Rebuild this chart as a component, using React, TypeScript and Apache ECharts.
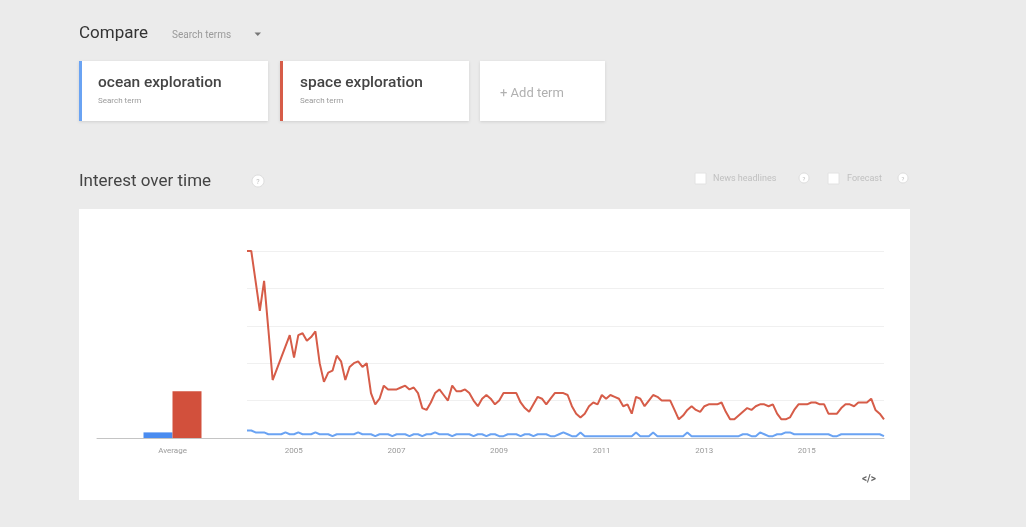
import React, { useEffect, useRef } from "react";
import * as echarts from "echarts";

const avgCategories = ["Average"];
const avgOcean = [3];
const avgSpace = [25];

const startYear = 2004;
const monthCount = 150;
const months: string[] = [];
for (let i = 0; i < monthCount; i++) {
  const y = startYear + Math.floor(i / 12);
  const m = (i % 12) + 1;
  months.push(`${y}-${m < 10 ? "0" + m : m}`);
}

const spaceExploration = [
  100, 100, 84, 68, 84, 58, 31, 37, 43, 49, 55, 43,
  55, 56, 52, 54, 57, 40, 30, 35, 36, 44, 41, 31,
  38, 40, 41, 38, 40, 24, 18, 21, 28, 26, 26, 26,
  27, 28, 26, 27, 24, 16, 15, 19, 24, 26, 23, 20,
  28, 25, 25, 26, 24, 20, 17, 21, 23, 21, 18, 20,
  24, 24, 24, 24, 19, 16, 14, 18, 22, 21, 18, 21,
  24, 24, 24, 23, 17, 13, 11, 13, 17, 19, 18, 23,
  21, 23, 22, 21, 17, 18, 13, 22, 21, 17, 20, 23,
  22, 20, 20, 20, 15, 10, 12, 15, 17, 15, 14, 17,
  18, 18, 18, 19, 14, 10, 10, 12, 14, 16, 15, 17,
  18, 18, 17, 18, 13, 10, 10, 11, 15, 18, 18, 18,
  19, 19, 18, 18, 13, 13, 13, 16, 18, 18, 17, 19,
  19, 19, 21, 15, 13, 10,
];

const oceanExploration = [
  4, 4, 3, 3, 3, 2, 2, 2, 2, 3, 2, 2,
  3, 2, 2, 2, 3, 2, 2, 2, 1, 2, 2, 2,
  2, 2, 3, 2, 2, 2, 1, 2, 2, 2, 1, 2,
  2, 2, 1, 2, 2, 1, 2, 2, 3, 2, 2, 2,
  1, 2, 2, 2, 2, 1, 2, 2, 1, 2, 2, 1,
  1, 2, 2, 2, 1, 2, 2, 1, 2, 2, 2, 1,
  1, 2, 3, 2, 1, 1, 3, 1, 1, 1, 1, 1,
  1, 1, 1, 1, 1, 1, 1, 3, 1, 1, 1, 3,
  1, 1, 1, 1, 1, 1, 1, 3, 1, 1, 1, 1,
  1, 1, 1, 1, 1, 1, 1, 1, 2, 2, 1, 1,
  3, 2, 1, 1, 2, 2, 3, 3, 2, 2, 2, 2,
  2, 2, 2, 2, 2, 1, 1, 2, 2, 2, 2, 2,
  2, 2, 2, 2, 2, 1,
];

const termNames = ["ocean exploration", "space exploration"];
const FONT = "Roboto, 'Noto Sans', Arial, sans-serif";
const BLUE = "#4a8cf0";
const BLUE_LINE = "#6aa3f3";
const RED = "#d2503c";
const RED_LINE = "#d65c48";

function txt(x: number, y: number, text: string, size: number, fill: string, weight: any = "normal", align = "left") {
  return {
    type: "text",
    x,
    y,
    silent: true,
    style: {
      text,
      fill,
      fontSize: size,
      fontFamily: FONT,
      fontWeight: weight,
      align,
      textAlign: align,
      verticalAlign: "middle",
      textVerticalAlign: "middle",
    },
  };
}

export default function App() {
  const ref = useRef<HTMLDivElement>(null);
  useEffect(() => {
    if (!ref.current) return;
    const chart = echarts.init(ref.current, undefined, { renderer: "svg" });
    const card = (x: number, w: number, border: string | null) => {
      const els: any[] = [
        {
          type: "rect",
          shape: { x, y: 61, width: w, height: 60 },
          silent: true,
          style: { fill: "#ffffff", shadowBlur: 3, shadowColor: "rgba(0,0,0,0.12)", shadowOffsetY: 1 },
        },
      ];
      if (border) {
        els.push({ type: "rect", shape: { x, y: 61, width: 3, height: 60 }, silent: true, style: { fill: border } });
      }
      return els;
    };
    const helpIcon = (x: number, y: number, r: number) => [
      { type: "circle", shape: { cx: x, cy: y, r }, silent: true, style: { fill: "#ffffff", stroke: "#dddddd", lineWidth: 1 } },
      txt(x, y + 0.5, "?", r + 1, "#bbbbbb", "normal", "center"),
    ];
    const graphic: any[] = [
      { type: "rect", shape: { x: 0, y: 0, width: 1026, height: 527 }, silent: true, z: -10, style: { fill: "#ebebeb" } },
      txt(79, 32, "Compare", 17, "#333333"),
      txt(172, 34, "Search terms", 10, "#9a9a9a"),
      { type: "polygon", shape: { points: [[254.5, 32.5], [261, 32.5], [257.75, 36]] }, silent: true, style: { fill: "#777777" } },
      ...card(79, 189, "#6aa3f3"),
      ...card(280, 189, "#d65c48"),
      ...card(480, 125, null),
      txt(98, 82, termNames[0], 15.5, "#444444", 500),
      txt(98, 100, "Search term", 8, "#9a9a9a"),
      txt(300, 82, termNames[1], 15.5, "#444444", 500),
      txt(300, 100, "Search term", 8, "#9a9a9a"),
      txt(500, 92, "+ Add term", 13, "#b0b0b0"),
      txt(79, 180, "Interest over time", 17, "#444444"),
      ...helpIcon(258, 181, 6),
      { type: "rect", shape: { x: 695, y: 173, width: 11, height: 11 }, silent: true, style: { fill: "#ffffff", stroke: "#e2e2e2" } },
      txt(713, 178, "News headlines", 9, "#c0c0c0"),
      ...helpIcon(804, 178, 5),
      { type: "rect", shape: { x: 828, y: 173, width: 11, height: 11 }, silent: true, style: { fill: "#ffffff", stroke: "#e2e2e2" } },
      txt(847, 178, "Forecast", 9, "#c0c0c0"),
      ...helpIcon(903, 178, 5),
      { type: "rect", shape: { x: 79, y: 209, width: 831, height: 291 }, silent: true, z: -5, style: { fill: "#ffffff" } },
      txt(869, 478, "</>", 10, "#666666", "bold", "center"),
    ];

    chart.setOption({
      animation: false,
      backgroundColor: "transparent",
      textStyle: { fontFamily: FONT },
      graphic: { elements: graphic },
      grid: [
        { left: 97, top: 251, width: 151, height: 187 },
        { left: 247, top: 251, width: 637, height: 187 },
      ],
      xAxis: [
        {
          type: "category",
          gridIndex: 0,
          data: avgCategories,
          axisLine: { lineStyle: { color: "#c4c4c4", width: 1 } },
          axisTick: { show: false },
          axisLabel: { color: "#9a9a9a", fontSize: 8, margin: 8 },
        },
        {
          type: "category",
          gridIndex: 1,
          data: months,
          boundaryGap: false,
          axisLine: { lineStyle: { color: "#c4c4c4", width: 1 } },
          axisTick: { show: false },
          axisLabel: {
            color: "#9a9a9a",
            fontSize: 8,
            margin: 8,
            padding: [0, 9, 0, 0],
            interval: (_i: number, v: string) => v.endsWith("-01") && parseInt(v.slice(0, 4), 10) % 2 === 1,
            formatter: (v: string) => v.slice(0, 4),
          },
        },
      ],
      yAxis: [
        {
          type: "value",
          gridIndex: 0,
          min: 0,
          max: 100,
          interval: 20,
          axisLine: { show: false },
          axisTick: { show: false },
          axisLabel: { show: false },
          splitLine: { show: false },
        },
        {
          type: "value",
          gridIndex: 1,
          min: 0,
          max: 100,
          interval: 20,
          axisLine: { show: false },
          axisTick: { show: false },
          axisLabel: { show: false },
          splitLine: { lineStyle: { color: "#f0f0f0", width: 1 } },
        },
      ],
      series: [
        {
          type: "bar",
          name: termNames[0],
          xAxisIndex: 0,
          yAxisIndex: 0,
          data: avgOcean,
          barWidth: 29,
          barGap: "0%",
          itemStyle: { color: BLUE },
        },
        {
          type: "bar",
          name: termNames[1],
          xAxisIndex: 0,
          yAxisIndex: 0,
          data: avgSpace,
          barWidth: 29,
          barGap: "0%",
          itemStyle: { color: RED },
        },
        {
          type: "line",
          name: termNames[1],
          xAxisIndex: 1,
          yAxisIndex: 1,
          data: spaceExploration,
          showSymbol: false,
          symbol: "none",
          lineStyle: { color: RED_LINE, width: 2 },
          itemStyle: { color: RED_LINE },
        },
        {
          type: "line",
          name: termNames[0],
          xAxisIndex: 1,
          yAxisIndex: 1,
          data: oceanExploration,
          showSymbol: false,
          symbol: "none",
          lineStyle: { color: BLUE_LINE, width: 2 },
          itemStyle: { color: BLUE_LINE },
        },
      ],
    });
    return () => chart.dispose();
  }, []);
  return (
    <div
      ref={ref}
      style={{ position: "fixed", left: 0, top: 0, width: "1026px", height: "527px" }}
    />
  );
}
